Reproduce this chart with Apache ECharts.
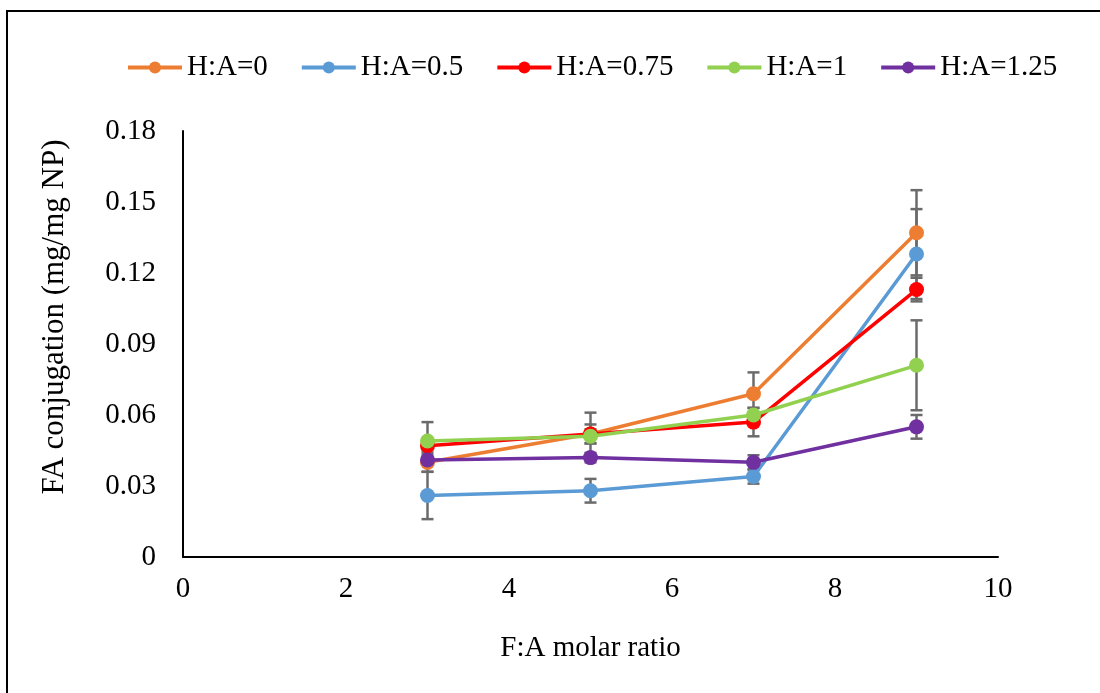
<!DOCTYPE html>
<html>
<head>
<meta charset="utf-8">
<script src="https://cdn.jsdelivr.net/npm/echarts@6/dist/echarts.min.js"></script>
<style>
  html, body { margin: 0; padding: 0; background: #fff; }
  #chart { width: 1100px; height: 693px; }
</style>
</head>
<body>
<div id="chart"></div>
<script>
  // F:A molar ratio
  const xVals = [3, 5, 7, 9]
  const seriesNames = ['H:A=0', 'H:A=0.5', 'H:A=0.75', 'H:A=1', 'H:A=1.25']
  const colors = ['#ED7D31', '#5B9BD5', '#FF0000', '#92D050', '#7030A0']

  // FA conjugation (mg/mg NP)
  const ha0 = [0.040, 0.052, 0.069, 0.137]
  const ha05 = [0.026, 0.028, 0.034, 0.128]
  const ha075 = [0.047, 0.052, 0.057, 0.113]
  const ha1 = [0.049, 0.051, 0.060, 0.081]
  const ha125 = [0.041, 0.042, 0.040, 0.055]

  // error bars (+/-)
  const err0 = [0.004, 0.009, 0.009, 0.018]
  const err05 = [0.010, 0.005, 0.003, 0.019]
  const err075 = [0.002, 0.004, 0.006, 0.005]
  const err1 = [0.008, 0.003, 0.003, 0.019]
  const err125 = [0.002, 0.002, 0.003, 0.005]

  const yTicks = [0, 0.03, 0.06, 0.09, 0.12, 0.15, 0.18]

  const values = [ha0, ha05, ha075, ha1, ha125]
  const errors = [err0, err05, err075, err1, err125]
  const font = '"Liberation Serif", "Times New Roman", serif'

  const chart = echarts.init(document.getElementById('chart'))

  const errData = []
  values.forEach(function (vals, s) {
    vals.forEach(function (v, i) {
      errData.push([xVals[i], v - errors[s][i], v + errors[s][i]])
    })
  })

  function renderErr(params, api) {
    const lo = api.coord([api.value(0), api.value(1)])
    const hi = api.coord([api.value(0), api.value(2)])
    const w = 6
    const style = { stroke: '#6b6b6b', lineWidth: 2.5 }
    return {
      type: 'group',
      children: [
        { type: 'line', shape: { x1: hi[0], y1: hi[1], x2: lo[0], y2: lo[1] }, style: style },
        { type: 'line', shape: { x1: hi[0] - w, y1: hi[1], x2: hi[0] + w, y2: hi[1] }, style: style },
        { type: 'line', shape: { x1: lo[0] - w, y1: lo[1], x2: lo[0] + w, y2: lo[1] }, style: style }
      ]
    }
  }

  const lineSeries = seriesNames.map(function (name, s) {
    return {
      name: name,
      type: 'line',
      data: xVals.map(function (x, i) { return [x, values[s][i]] }),
      symbol: 'circle',
      symbolSize: 15,
      color: colors[s],
      lineStyle: { width: 3.5, color: colors[s] },
      itemStyle: { color: colors[s] },
      z: 3 + s
    }
  })

  chart.setOption({
    animation: false,
    backgroundColor: '#fff',
    textStyle: { fontFamily: font },
    graphic: [{
      type: 'rect',
      shape: { x: 7, y: 11, width: 1100, height: 700 },
      style: { fill: 'none', stroke: '#000', lineWidth: 2 },
      silent: true
    }],
    legend: {
      data: seriesNames,
      left: 121,
      top: 48,
      itemWidth: 54,
      itemHeight: 15,
      itemGap: 32,
      lineStyle: { width: 4 },
      textStyle: { fontFamily: font, fontSize: 29, color: '#000' }
    },
    grid: {
      left: 183,
      right: 102,
      top: 131,
      bottom: 136
    },
    xAxis: {
      type: 'value',
      min: 0,
      max: 10,
      interval: 2,
      name: 'F:A molar ratio',
      nameLocation: 'middle',
      nameGap: 77,
      nameTextStyle: { fontFamily: font, fontSize: 29, color: '#000' },
      axisLine: { show: true, onZero: false, lineStyle: { color: '#000', width: 2 } },
      axisTick: { show: false },
      splitLine: { show: false },
      axisLabel: { fontFamily: font, fontSize: 29, color: '#000', margin: 18 }
    },
    yAxis: {
      type: 'value',
      min: 0,
      max: 0.18,
      interval: 0.03,
      name: 'FA conjugation (mg/mg NP)',
      nameLocation: 'middle',
      nameGap: 113,
      nameTextStyle: { fontFamily: font, fontSize: 31, color: '#000', padding: [0, 0, 0, 54] },
      axisLine: { show: true, lineStyle: { color: '#000', width: 2 } },
      axisTick: { show: false },
      splitLine: { show: false },
      axisLabel: {
        fontFamily: font, fontSize: 29, color: '#000', margin: 27,
        formatter: function (v) {
          const t = yTicks.find(function (k) { return Math.abs(k - v) < 1e-9 })
          return t === 0 ? '0' : (t !== undefined ? t.toFixed(2) : '')
        }
      }
    },
    series: [{
      type: 'custom',
      renderItem: renderErr,
      data: errData,
      z: 2,
      silent: true
    }].concat(lineSeries)
  })
</script>
</body>
</html>
